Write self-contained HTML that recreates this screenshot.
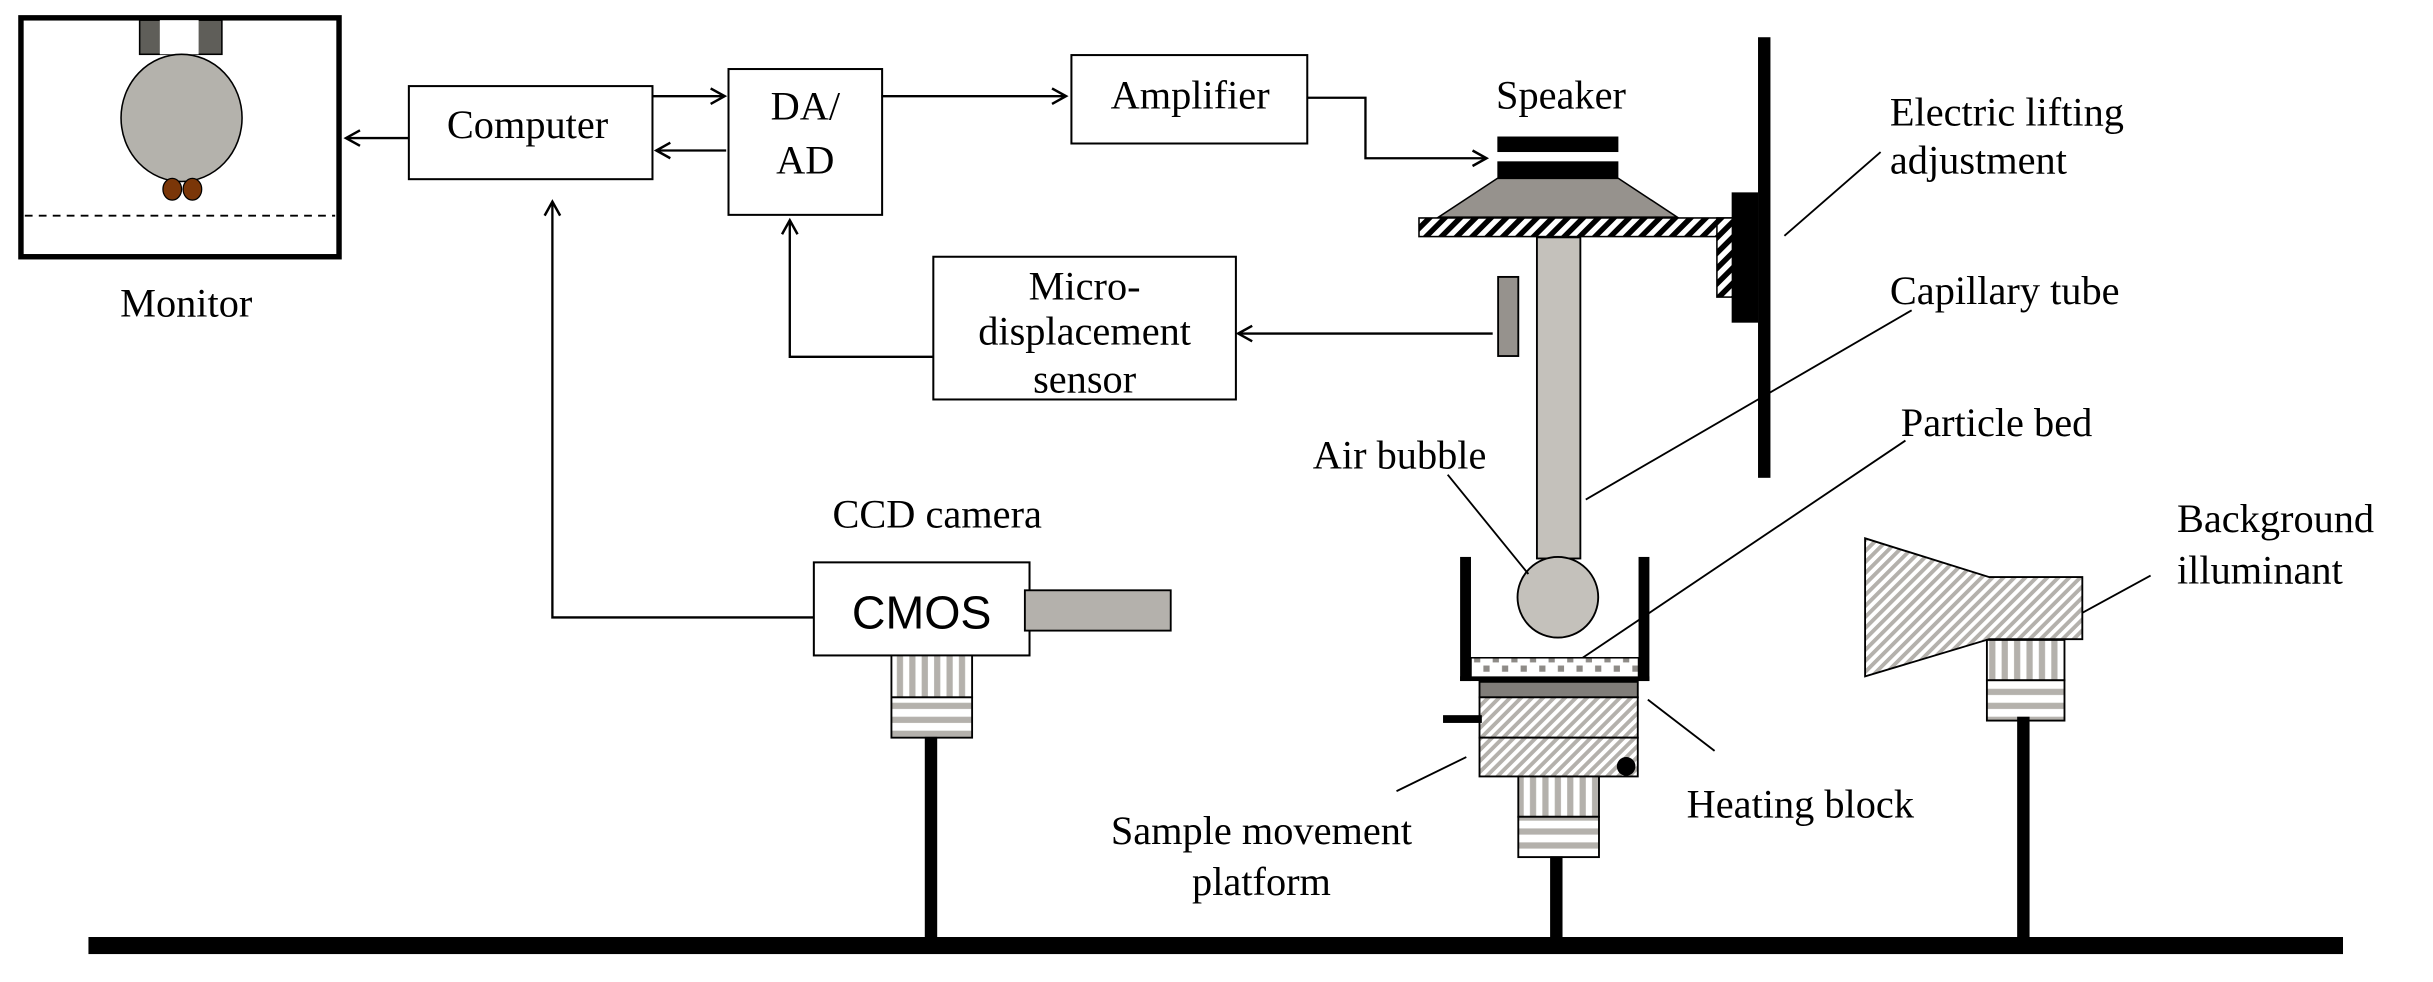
<!DOCTYPE html>
<html><head><meta charset="utf-8"><style>
html,body{margin:0;padding:0;background:#fff;}
svg{display:block;}
.s{font-family:"Liberation Serif","DejaVu Serif",serif;}
</style></head><body>
<svg width="2433" height="982" viewBox="0 0 1568 633" preserveAspectRatio="none" xmlns="http://www.w3.org/2000/svg">
<defs>
<pattern id="bw" width="7" height="7" patternUnits="userSpaceOnUse" patternTransform="rotate(45)">
<rect width="7" height="7" fill="#fff"/><rect width="3.5" height="7" fill="#000"/></pattern>
<pattern id="gd" width="5" height="5" patternUnits="userSpaceOnUse" patternTransform="rotate(45)">
<rect width="5" height="5" fill="#fff"/><rect width="2.5" height="5" fill="#b4b1ac"/></pattern>
<pattern id="vs" width="8" height="10" patternUnits="userSpaceOnUse">
<rect width="8" height="10" fill="#fff"/><rect x="2" width="4" height="10" fill="#b4b1ac"/></pattern>
<pattern id="hs" width="10" height="9" patternUnits="userSpaceOnUse">
<rect width="10" height="9" fill="#fff"/><rect y="3" width="10" height="4" fill="#b4b1ac"/></pattern>
<pattern id="dots" width="12" height="14" patternUnits="userSpaceOnUse">
<rect width="12" height="14" fill="#fff"/><rect x="2" y="3" width="4" height="4" fill="#8e8b87"/><rect x="8" y="9" width="4" height="4" fill="#8e8b87"/></pattern>
<marker id="ar" markerWidth="12" markerHeight="12" refX="10" refY="6" orient="auto" markerUnits="userSpaceOnUse">
<path d="M1,1 L10,6 L1,11" fill="none" stroke="#000" stroke-width="1.6"/></marker>
</defs>

<rect x="13.5" y="11.5" width="205" height="154" fill="#fff" stroke="#000" stroke-width="3.5"/>
<rect x="90" y="13" width="53" height="22" fill="#5f5e59" stroke="#000" stroke-width="1"/>
<rect x="103" y="13" width="25" height="22" fill="#fff"/>
<ellipse cx="117" cy="76" rx="39" ry="41" fill="#b4b2ac" stroke="#000" stroke-width="1"/>
<ellipse cx="111" cy="122" rx="6" ry="7" fill="#7a3608" stroke="#000" stroke-width="0.8"/>
<ellipse cx="124" cy="122" rx="6" ry="7" fill="#7a3608" stroke="#000" stroke-width="0.8"/>
<line x1="16" y1="139" x2="216" y2="139" stroke="#000" stroke-width="1.2" stroke-dasharray="5,4"/>

<rect x="263.5" y="55.5" width="157" height="60" fill="#fff" stroke="#000" stroke-width="1.3"/>
<line x1="263" y1="89" x2="223" y2="89" stroke="#000" stroke-width="1.5" marker-end="url(#ar)"/>
<line x1="420" y1="62" x2="467" y2="62" stroke="#000" stroke-width="1.5" marker-end="url(#ar)"/>
<line x1="468" y1="97" x2="423" y2="97" stroke="#000" stroke-width="1.5" marker-end="url(#ar)"/>

<rect x="469.5" y="44.5" width="99" height="94" fill="#fff" stroke="#000" stroke-width="1.3"/>
<line x1="568" y1="62" x2="687" y2="62" stroke="#000" stroke-width="1.5" marker-end="url(#ar)"/>

<rect x="690.5" y="35.5" width="152" height="57" fill="#fff" stroke="#000" stroke-width="1.3"/>
<polyline points="842,63 880,63 880,102 958,102" fill="none" stroke="#000" stroke-width="1.5" marker-end="url(#ar)"/>

<rect x="601.5" y="165.5" width="195" height="92" fill="#fff" stroke="#000" stroke-width="1.3"/>
<line x1="962" y1="215" x2="798" y2="215" stroke="#000" stroke-width="1.5" marker-end="url(#ar)"/>
<polyline points="601,230 509,230 509,142" fill="none" stroke="#000" stroke-width="1.5" marker-end="url(#ar)"/>
<polyline points="524,398 356,398 356,130" fill="none" stroke="#000" stroke-width="1.5" marker-end="url(#ar)"/>

<rect x="965" y="88" width="78" height="10" fill="#000"/>
<rect x="965" y="104" width="78" height="11" fill="#000"/>
<polygon points="965,115 1043,115 1081,140 927,140" fill="#96928d" stroke="#000" stroke-width="1"/>
<rect x="914.5" y="140.5" width="204" height="12" fill="url(#bw)" stroke="#000" stroke-width="1"/>
<rect x="1106.5" y="140.5" width="12" height="51" fill="url(#bw)" stroke="#000" stroke-width="1"/>
<rect x="1116" y="124" width="17" height="84" fill="#000"/>
<rect x="1133" y="24" width="8" height="284" fill="#000"/>
<rect x="990.5" y="153" width="28" height="207" fill="#c4c1bb" stroke="#000" stroke-width="1.2"/>
<rect x="965.5" y="178.5" width="13" height="51" fill="#96928d" stroke="#000" stroke-width="1.2"/>
<circle cx="1004" cy="385" r="26" fill="#c4c1bb" stroke="#000" stroke-width="1.2"/>

<rect x="941" y="359" width="7" height="80" fill="#000"/>
<rect x="1056" y="359" width="7" height="80" fill="#000"/>
<rect x="948" y="424" width="108" height="13" fill="url(#dots)" stroke="#000" stroke-width="1"/>
<rect x="941" y="436" width="122" height="3" fill="#000"/>
<rect x="953.5" y="439.5" width="102" height="10" fill="#807d79" stroke="#000" stroke-width="1.2"/>
<rect x="953.5" y="449.5" width="102" height="26" fill="url(#gd)" stroke="#000" stroke-width="1.2"/>
<rect x="953.5" y="475.5" width="102" height="25" fill="url(#gd)" stroke="#000" stroke-width="1.2"/>
<circle cx="1048" cy="494" r="6" fill="#000"/>
<rect x="930" y="461" width="25" height="5" fill="#000"/>
<rect x="978.5" y="500.5" width="52" height="26" fill="url(#vs)" stroke="#000" stroke-width="1.2"/>
<rect x="978.5" y="526.5" width="52" height="26" fill="url(#hs)" stroke="#000" stroke-width="1.2"/>
<rect x="999" y="552" width="8" height="54" fill="#000"/>

<rect x="524.5" y="362.5" width="139" height="60" fill="#fff" stroke="#000" stroke-width="1.3"/>
<text x="594" y="405" font-size="30" text-anchor="middle" style="font-family:'Liberation Sans','DejaVu Sans',sans-serif">CMOS</text>
<rect x="660.5" y="380.5" width="94" height="26" fill="#b4b1ac" stroke="#000" stroke-width="1.2"/>
<rect x="574.5" y="422.5" width="52" height="27" fill="url(#vs)" stroke="#000" stroke-width="1.2"/>
<rect x="574.5" y="449.5" width="52" height="26" fill="url(#hs)" stroke="#000" stroke-width="1.2"/>
<rect x="596" y="475" width="8" height="131" fill="#000"/>

<polygon points="1202,347 1282,372 1342,372 1342,412 1282,412 1202,436" fill="url(#gd)" stroke="#000" stroke-width="1.2"/>
<rect x="1280.5" y="412.5" width="50" height="26" fill="url(#vs)" stroke="#000" stroke-width="1.2"/>
<rect x="1280.5" y="438.5" width="50" height="26" fill="url(#hs)" stroke="#000" stroke-width="1.2"/>
<rect x="1300" y="462" width="8" height="144" fill="#000"/>

<rect x="57" y="604" width="1453" height="11" fill="#000"/>

<g stroke="#000" stroke-width="1.2">
<line x1="1150" y1="152" x2="1212" y2="98"/>
<line x1="1022" y1="322" x2="1232" y2="200"/>
<line x1="1020" y1="424" x2="1228" y2="284"/>
<line x1="933" y1="306" x2="985" y2="370"/>
<line x1="1342" y1="395" x2="1386" y2="371"/>
<line x1="1062" y1="451" x2="1105" y2="484"/>
<line x1="945" y1="488" x2="900" y2="510"/>
</g>

<g class="s" font-size="26" fill="#000">
<text class="s" x="120" y="204" text-anchor="middle">Monitor</text>
<text class="s" x="340" y="89" text-anchor="middle">Computer</text>
<text class="s" x="519" y="77" text-anchor="middle">DA/</text>
<text class="s" x="519" y="112" text-anchor="middle">AD</text>
<text class="s" x="767" y="70" text-anchor="middle">Amplifier</text>
<text class="s" x="699" y="193" text-anchor="middle">Micro-</text>
<text class="s" x="699" y="222" text-anchor="middle">displacement</text>
<text class="s" x="699" y="253" text-anchor="middle">sensor</text>
<text class="s" x="1006" y="70" text-anchor="middle">Speaker</text>
<text class="s" x="604" y="340" text-anchor="middle">CCD camera</text>
<text class="s" x="1218" y="81">Electric lifting</text>
<text class="s" x="1218" y="112">adjustment</text>
<text class="s" x="1218" y="196">Capillary tube</text>
<text class="s" x="1225" y="281">Particle bed</text>
<text class="s" x="902" y="302" text-anchor="middle">Air bubble</text>
<text class="s" x="1403" y="343">Background</text>
<text class="s" x="1403" y="376">illuminant</text>
<text class="s" x="1087" y="527">Heating block</text>
<text class="s" x="813" y="544" text-anchor="middle">Sample movement</text>
<text class="s" x="813" y="577" text-anchor="middle">platform</text>
</g>
</svg>
</body></html>
